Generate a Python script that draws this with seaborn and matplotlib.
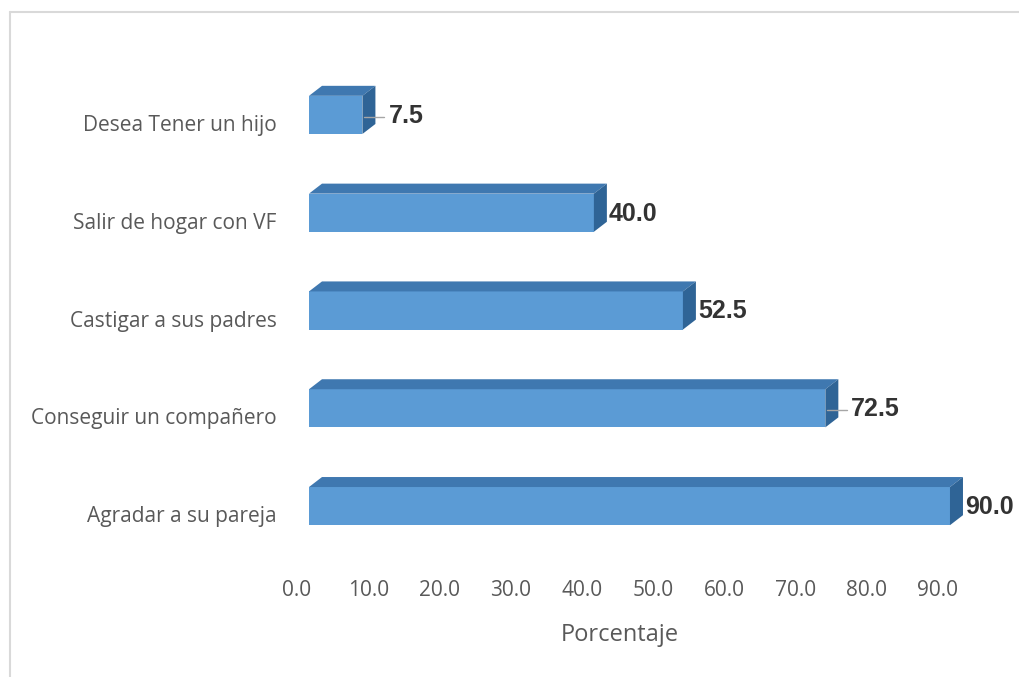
import matplotlib
matplotlib.use('Agg')
import matplotlib.pyplot as plt
import matplotlib.transforms as mtransforms
from matplotlib.patches import Polygon
from matplotlib.lines import Line2D
import pandas as pd
import seaborn as sns

# data
categories = ['Desea Tener un hijo', 'Salir de hogar con VF', 'Castigar a sus padres',
              'Conseguir un compañero', 'Agradar a su pareja']
values = [7.5, 40.0, 52.5, 72.5, 90.0]
xticks = [0, 10, 20, 30, 40, 50, 60, 70, 80, 90]

df = pd.DataFrame({'motivo': categories, 'porcentaje': values})

sns.set_style('white')
plt.rcParams['font.family'] = ['Open Sans', 'DejaVu Sans']

W, H = 1019, 677
fig = plt.figure(figsize=(W / 100, H / 100), dpi=100)
ax = fig.add_axes([285 / W, 1 - 555 / H, 670 / W, 489 / H])

sns.barplot(data=df, x='porcentaje', y='motivo', order=categories, orient='h',
            color='#5B9BD5', saturation=1, width=0.39, ax=ax)
bars = list(ax.patches)

ax.set_xlim(-1.685, 92.39)
ax.set_ylim(len(categories) - 0.5, -0.5)
ax.set_xticks(xticks)
ax.set_xticklabels([f'{t:.1f}' for t in xticks])
ax.tick_params(axis='x', length=0, pad=18, labelsize=15, labelcolor='#595959')
ax.tick_params(axis='y', length=0, pad=6, labelsize=15, labelcolor='#595959')
ax.set_xlabel('Porcentaje', fontsize=17, color='#595959', labelpad=16)
ax.set_ylabel('')
sns.despine(ax=ax, left=True, bottom=True)

# category labels sit a bit lower than the bar centres in the original
down = mtransforms.ScaledTranslation(0, -0.08, fig.dpi_scale_trans)
for lab in ax.get_yticklabels():
    lab.set_transform(lab.get_transform() + down)

# fake 3D: shift front faces a little, then add top and side faces
shift = mtransforms.ScaledTranslation(0.12, 0, fig.dpi_scale_trans)
front_tr = ax.transData + shift
dx, dy = 13, 10
ident = mtransforms.IdentityTransform()
with_leader = {'Desea Tener un hijo', 'Conseguir un compañero'}

for p, cat, val in zip(bars, categories, values):
    p.set_transform(front_tr)
    p.set_edgecolor('none')
    p.set_clip_on(False)
    x0, y0 = front_tr.transform((p.get_x(), p.get_y()))
    x1, y1 = front_tr.transform((p.get_x() + p.get_width(), p.get_y() + p.get_height()))
    xl, xr = min(x0, x1), max(x0, x1)
    yb, yt = min(y0, y1), max(y0, y1)
    top = Polygon([(xl, yt), (xr, yt), (xr + dx, yt + dy), (xl + dx, yt + dy)],
                  closed=True, facecolor='#3F78B0', edgecolor='none', transform=ident, clip_on=False)
    side = Polygon([(xr, yt), (xr + dx, yt + dy), (xr + dx, yb + dy), (xr, yb)],
                   closed=True, facecolor='#2F6496', edgecolor='none', transform=ident, clip_on=False)
    ax.add_patch(top)
    ax.add_patch(side)
    yc = (yb + yt) / 2
    gap = 15
    if cat in with_leader:
        gap = 26
        ax.add_line(Line2D([xr + 2, xr + gap - 4], [yc - 2, yc - 2], color='#a6a6a6', lw=1,
                           transform=ident, clip_on=False))
    ax.text(xr + gap, yc - 1, f'{val:.1f}', transform=ident, ha='left', va='center',
            fontsize=18, fontweight='bold', color='#333333', family=['Liberation Sans', 'DejaVu Sans'])

# light frame around the chart area
fig.add_artist(Line2D([10 / W, 10 / W], [0, 1 - 12 / H], transform=fig.transFigure,
                      color='#d9d9d9', lw=1.5))
fig.add_artist(Line2D([10 / W, 1], [1 - 12 / H, 1 - 12 / H], transform=fig.transFigure,
                      color='#d9d9d9', lw=1.5))

fig.savefig('out.png', dpi=100)
